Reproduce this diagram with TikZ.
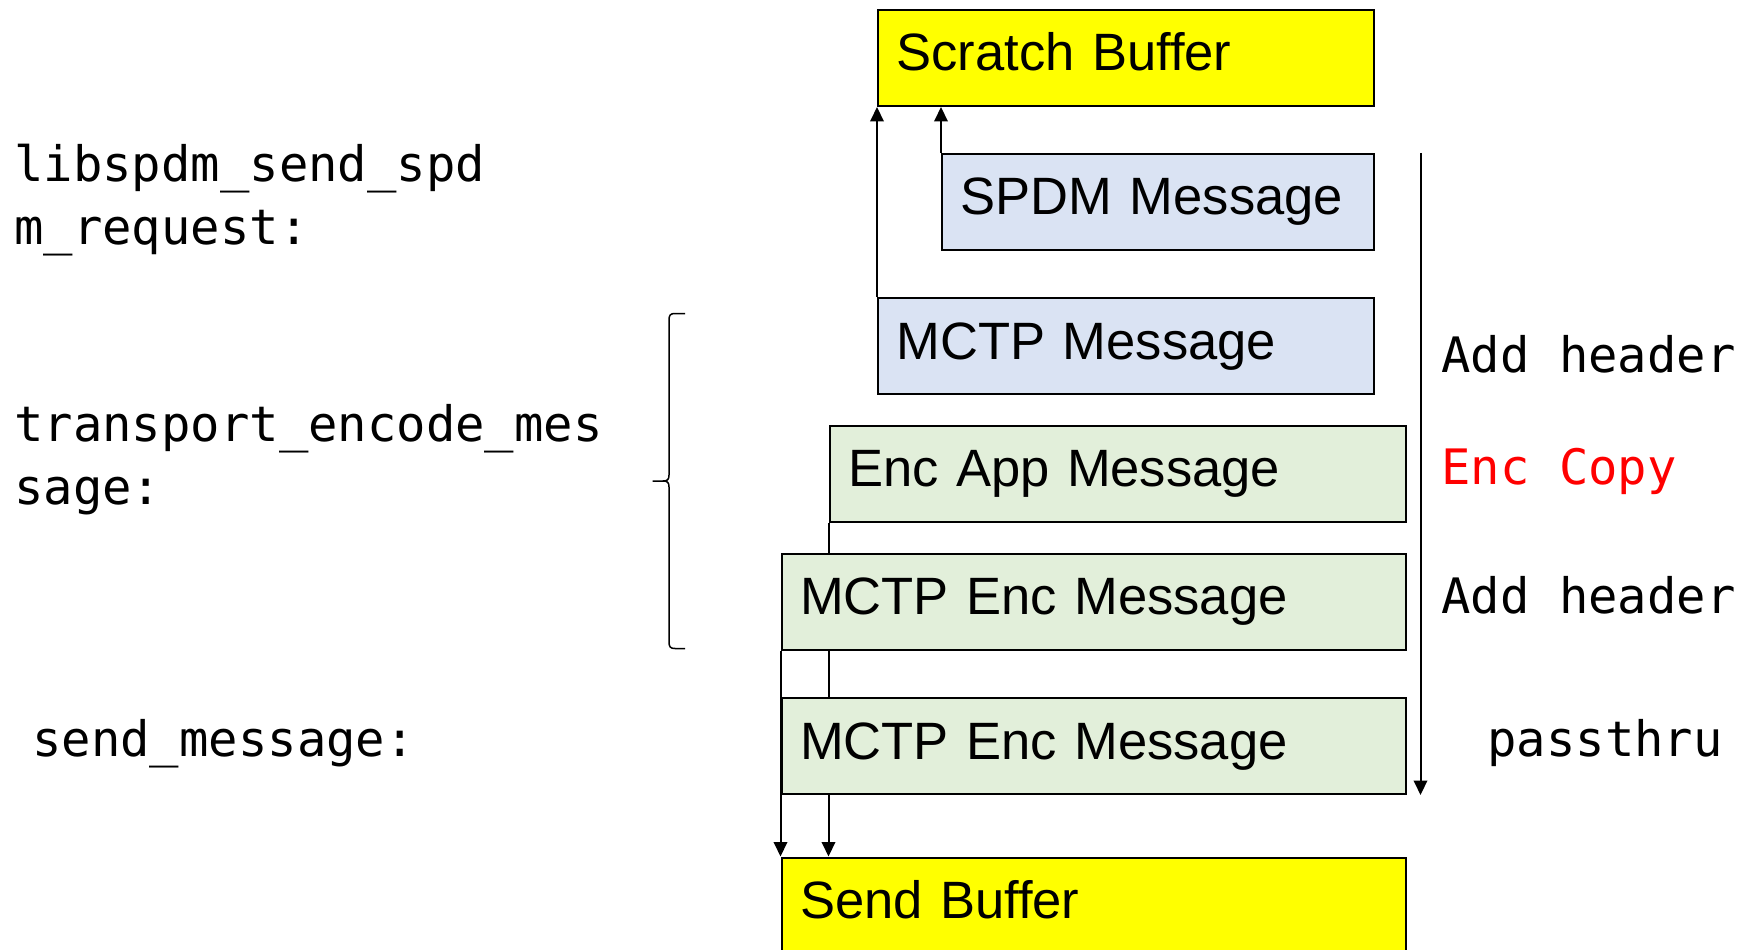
\documentclass[tikz,border=0pt]{standalone}
\usepackage{fontspec}
\setmainfont{Liberation Sans}
\setmonofont{DejaVu Sans Mono}
\usepackage{tikz}
\usetikzlibrary{arrows.meta,positioning,calc}
\usepackage{xcolor}
\definecolor{bufyellow}{RGB}{255,255,0}
\definecolor{msgblue}{RGB}{218,227,243}
\definecolor{msggreen}{RGB}{226,239,218}
\definecolor{copyred}{RGB}{255,0,0}
\tikzstyle{arrow} = [line width=0.04cm,-{Triangle[length=0.29cm,width=0.27cm]}]
\tikzstyle{link} = [line width=0.04cm]
\tikzstyle{msgbox} = [rectangle, draw, line width=0.04cm, anchor=north west, minimum height=1.92cm, inner xsep=0.37cm, inner ysep=0pt, align=left, text height=0.75cm, text depth=0.23cm, font=\fontsize{29.9}{36}\selectfont]
\tikzstyle{buffer} = [msgbox, fill=bufyellow]
\tikzstyle{plainmsg} = [msgbox, fill=msgblue]
\tikzstyle{encmsg} = [msgbox, fill=msggreen]
\tikzstyle{code} = [anchor=base west, inner sep=0pt, align=left, font=\ttfamily\fontsize{27.8}{35.7}\selectfont]

\begin{document}
\begin{tikzpicture}[y=-1cm]
    \useasboundingbox (0,0) rectangle (34.78,19);
    \clip (0,0) rectangle (34.78,19);

    % Buffers
    \node[buffer, text width=9.18cm] (scratch) at (17.54,0.18) {Scratch Buffer};
    \node[buffer, text width=11.75cm] (sendbuf) at (15.61,17.13) {Send Buffer};

    % Messages
    \node[plainmsg, text width=7.90cm] (spdm) at (18.82,3.06) {SPDM Message};
    \node[plainmsg, text width=9.18cm] (mctp) at (17.54,5.94) {MCTP Message};
    \node[encmsg, text width=10.79cm] (encapp) at (16.57,8.49) {Enc App Message};
    \node[encmsg, text width=11.75cm] (mctpenc) at (15.61,11.05) {MCTP Enc Message};
    \node[encmsg, text width=11.75cm] (sendenc) at (15.61,13.94) {MCTP Enc Message};

    % Function names (anchored on the last line)
    \node[code] (sendreq) at (0.28,4.88) {libspdm\_send\_spd\\m\_request:};
    \node[code] (encode) at (0.28,10.08) {transport\_encode\_mes\\sage:};
    \node[code] (sendmsg) at (0.64,15.13) {send\_message:};
    \draw[line width=0.03cm] (13.70,6.27) -- (13.50,6.27) .. controls (13.41,6.27) and (13.38,6.30) .. (13.38,6.40)
        -- (13.38,9.50) .. controls (13.38,9.59) and (13.35,9.62) .. (13.26,9.62) -- (13.05,9.62)
        (13.26,9.62) .. controls (13.35,9.62) and (13.38,9.65) .. (13.38,9.74)
        -- (13.38,12.84) .. controls (13.38,12.94) and (13.41,12.97) .. (13.50,12.97) -- (13.70,12.97);

    % Steps
    \node[code] (addhdr1) at (28.82,7.45) {Add header};
    \node[code, text=copyred] (enccopy) at (28.82,9.69) {Enc Copy};
    \node[code] (addhdr2) at (28.82,12.27) {Add header};
    \node[code] (passthru) at (29.74,15.13) {passthru};

    % Arrows
    \draw[arrow] (mctp.north west) -- (scratch.south west);
    \draw[arrow] (spdm.north west) -- (spdm.north west |- scratch.south);
    \draw[link] (encapp.south west) -- (encapp.south west |- mctpenc.north);
    \draw[link] (mctpenc.south -| encapp.west) -- (sendenc.north -| encapp.west);
    \draw[arrow] (sendenc.south -| encapp.west) -- (sendbuf.north -| encapp.west);
    \draw[arrow] (mctpenc.south west) -- (sendbuf.north west);

    \coordinate (flowtop) at (28.41,3.06);
    \draw[arrow] (flowtop) -- (flowtop |- sendenc.south);
\end{tikzpicture}
\end{document}
